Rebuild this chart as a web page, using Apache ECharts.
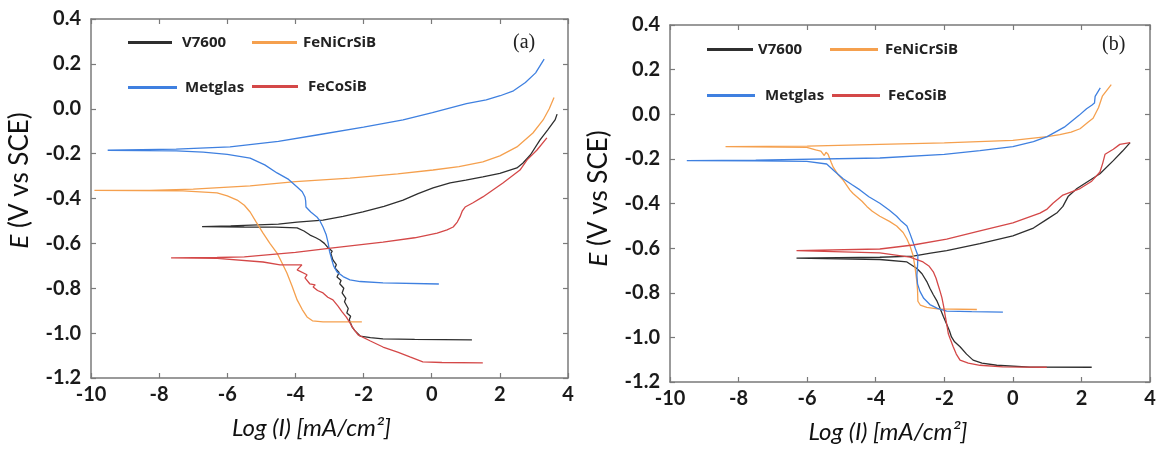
<!DOCTYPE html>
<html>
<head>
<meta charset="utf-8">
<script src="https://cdn.jsdelivr.net/npm/echarts@6/dist/echarts.min.js"></script>
<style>
  html, body { margin: 0; padding: 0; background: #fff; }
  #chart { width: 1159px; height: 449px; }
</style>
</head>
<body>
<div id="chart"></div>
<script>
// tick labels
const xTicks = [-10, -8, -6, -4, -2, 0, 2, 4]
const yTicks = [0.4, 0.2, 0.0, -0.2, -0.4, -0.6, -0.8, -1.0, -1.2]
const seriesNames = ['V7600', 'FeNiCrSiB', 'Metglas', 'FeCoSiB']
const seriesColors = ['#2f2f2f', '#f5a04e', '#3f80e0', '#d44848']

// panel (a): [log I, E] along each curve (cathodic end -> Ecorr -> anodic end)
const aV7600 = [
  [1.18, -1.030], [-0.5, -1.028], [-1.43, -1.026], [-1.8, -1.02], [-2.1, -1.013],
  [-2.25, -0.99], [-2.34, -0.972], [-2.42, -0.94], [-2.38, -0.925], [-2.49, -0.91],
  [-2.45, -0.89], [-2.56, -0.86], [-2.52, -0.845], [-2.63, -0.821], [-2.58, -0.80],
  [-2.70, -0.78], [-2.66, -0.765], [-2.78, -0.75], [-2.72, -0.73], [-2.84, -0.71],
  [-2.80, -0.695], [-2.90, -0.674], [-2.96, -0.645], [-2.92, -0.635], [-3.04, -0.62],
  [-3.15, -0.60], [-3.12, -0.592], [-3.28, -0.585], [-3.40, -0.575], [-3.57, -0.563],
  [-3.75, -0.545], [-3.95, -0.531], [-4.6, -0.528], [-5.5, -0.527], [-6.74, -0.525],
  [-5.9, -0.522], [-4.5, -0.514], [-3.95, -0.505], [-3.19, -0.496], [-2.6, -0.48],
  [-2.02, -0.46], [-1.4, -0.435], [-0.84, -0.407], [-0.4, -0.378], [0.04, -0.353],
  [0.54, -0.33], [1.0, -0.318], [1.5, -0.304], [2.0, -0.288], [2.5, -0.264],
  [2.68, -0.242], [2.9, -0.205], [3.18, -0.139], [3.4, -0.095], [3.62, -0.05], [3.68, -0.024]
]
const aFeNiCrSiB = [
  [-2.05, -0.95], [-3.19, -0.95], [-3.5, -0.945], [-3.66, -0.928], [-3.8, -0.895],
  [-3.95, -0.852], [-4.1, -0.79], [-4.25, -0.732], [-4.4, -0.685], [-4.54, -0.643],
  [-4.75, -0.60], [-4.95, -0.554], [-5.15, -0.505], [-5.33, -0.46], [-5.5, -0.43],
  [-5.71, -0.407], [-6.0, -0.388], [-6.3, -0.375], [-7.3, -0.366], [-9.9, -0.364],
  [-8.27, -0.364], [-7.0, -0.358], [-5.33, -0.344], [-4.0, -0.325], [-2.4, -0.309],
  [-1.0, -0.29], [0.04, -0.273], [0.8, -0.258], [1.5, -0.237], [2.0, -0.21],
  [2.5, -0.17], [2.97, -0.108], [3.27, -0.05], [3.45, 0.0], [3.59, 0.05]
]
const aMetglas = [
  [0.21, -0.781], [-1.43, -0.776], [-2.1, -0.77], [-2.4, -0.763], [-2.6, -0.748],
  [-2.78, -0.727], [-2.88, -0.70], [-2.93, -0.674], [-3.0, -0.635], [-3.04, -0.598],
  [-3.1, -0.56], [-3.19, -0.527], [-3.28, -0.50], [-3.37, -0.482], [-3.55, -0.46],
  [-3.69, -0.438], [-3.70, -0.41], [-3.72, -0.393], [-3.8, -0.37], [-3.95, -0.349],
  [-4.2, -0.315], [-4.54, -0.286], [-4.9, -0.25], [-5.33, -0.22], [-6.0, -0.203],
  [-6.71, -0.193], [-7.5, -0.188], [-9.51, -0.185], [-7.5, -0.180], [-5.92, -0.17],
  [-4.5, -0.145], [-3.37, -0.117], [-2.0, -0.082], [-0.84, -0.05], [0.02, -0.017],
  [1.02, 0.023], [1.6, 0.04], [2.01, 0.058], [2.4, 0.08], [2.75, 0.117],
  [3.05, 0.16], [3.3, 0.221]
]
const aFeCoSiB = [
  [1.5, -1.133], [0.3, -1.131], [-0.26, -1.128], [-0.64, -1.106], [-1.0, -1.085],
  [-1.43, -1.062], [-1.8, -1.035], [-2.16, -1.008], [-2.3, -0.98], [-2.4, -0.955],
  [-2.5, -0.93], [-2.63, -0.905], [-2.75, -0.88], [-2.9, -0.852], [-3.05, -0.84],
  [-3.19, -0.821], [-3.35, -0.81], [-3.48, -0.794], [-3.42, -0.785], [-3.58, -0.78],
  [-3.72, -0.754], [-3.66, -0.74], [-3.95, -0.718], [-3.81, -0.696], [-4.45, -0.696],
  [-4.95, -0.683], [-6.3, -0.667], [-7.65, -0.665], [-6.3, -0.663], [-5.5, -0.66],
  [-4.0, -0.64], [-2.9, -0.62], [-1.43, -0.594], [-0.5, -0.575], [0.16, -0.554],
  [0.45, -0.54], [0.63, -0.527], [0.75, -0.505], [0.83, -0.482], [0.9, -0.455],
  [0.98, -0.438], [1.2, -0.42], [1.5, -0.393], [2.09, -0.331], [2.59, -0.273],
  [2.8, -0.228], [3.09, -0.184], [3.38, -0.13]
]

// panel (b)
const bV7600 = [
  [2.3, -1.134], [0.5, -1.133], [-0.47, -1.125], [-0.9, -1.115], [-1.16, -1.102],
  [-1.35, -1.075], [-1.54, -1.042], [-1.7, -1.02], [-1.79, -0.998], [-1.85, -0.97],
  [-1.93, -0.941], [-2.03, -0.905], [-2.13, -0.867], [-2.22, -0.835], [-2.32, -0.809],
  [-2.42, -0.78], [-2.51, -0.75], [-2.65, -0.715], [-2.8, -0.691], [-3.09, -0.662],
  [-3.88, -0.651], [-6.31, -0.645], [-3.88, -0.641], [-2.91, -0.636], [-2.4, -0.622],
  [-1.93, -0.611], [-0.96, -0.58], [0.0, -0.545], [0.6, -0.51], [0.99, -0.471],
  [1.3, -0.44], [1.46, -0.413], [1.61, -0.369], [1.87, -0.333], [2.2, -0.30],
  [2.54, -0.267], [2.93, -0.208], [3.2, -0.165], [3.42, -0.127]
]
const bFeNiCrSiB = [
  [-1.05, -0.875], [-2.2, -0.872], [-2.51, -0.866], [-2.7, -0.855], [-2.77, -0.838],
  [-2.78, -0.79], [-2.8, -0.75], [-2.85, -0.69], [-2.91, -0.633], [-3.0, -0.59],
  [-3.09, -0.559], [-3.2, -0.53], [-3.39, -0.501], [-3.6, -0.48], [-3.88, -0.457],
  [-4.1, -0.435], [-4.26, -0.413], [-4.4, -0.39], [-4.66, -0.355], [-4.75, -0.34],
  [-4.95, -0.295], [-5.1, -0.27], [-5.24, -0.237], [-5.3, -0.215], [-5.39, -0.179],
  [-5.45, -0.17], [-5.5, -0.185], [-5.6, -0.165], [-5.75, -0.16], [-6.01, -0.148],
  [-8.38, -0.145], [-6.0, -0.143], [-3.88, -0.135], [-2.0, -0.128], [0.0, -0.117],
  [1.0, -0.10], [1.37, -0.091], [1.7, -0.08], [1.96, -0.065], [2.2, -0.035],
  [2.34, -0.018], [2.5, 0.03], [2.61, 0.081], [2.87, 0.133]
]
const bMetglas = [
  [-0.29, -0.887], [-1.2, -0.885], [-1.93, -0.882], [-2.2, -0.87], [-2.42, -0.853],
  [-2.6, -0.825], [-2.71, -0.794], [-2.78, -0.76], [-2.8, -0.721], [-2.78, -0.68],
  [-2.77, -0.633], [-2.85, -0.60], [-2.91, -0.574], [-3.0, -0.535], [-3.09, -0.501],
  [-3.25, -0.48], [-3.39, -0.457], [-3.6, -0.43], [-3.88, -0.399], [-4.2, -0.37],
  [-4.46, -0.339], [-4.7, -0.315], [-4.95, -0.289], [-5.2, -0.255], [-5.43, -0.223],
  [-6.01, -0.211], [-7.5, -0.209], [-9.51, -0.208], [-7.5, -0.206], [-3.88, -0.196],
  [-2.0, -0.18], [-0.96, -0.163], [0.0, -0.145], [0.6, -0.123], [1.0, -0.10],
  [1.5, -0.058], [1.93, -0.005], [2.15, 0.025], [2.3, 0.04], [2.38, 0.05],
  [2.4, 0.08], [2.55, 0.118]
]
const bFeCoSiB = [
  [0.99, -1.134], [-0.3, -1.132], [-0.96, -1.125], [-1.3, -1.115], [-1.54, -1.102],
  [-1.65, -1.075], [-1.74, -1.042], [-1.82, -1.01], [-1.88, -0.985], [-1.93, -0.94],
  [-1.98, -0.897], [-2.02, -0.86], [-2.07, -0.822], [-2.12, -0.795], [-2.18, -0.765],
  [-2.24, -0.735], [-2.32, -0.706], [-2.45, -0.68], [-2.62, -0.662], [-3.0, -0.640],
  [-3.88, -0.621], [-6.31, -0.611], [-3.88, -0.604], [-2.91, -0.586], [-1.93, -0.56],
  [-0.96, -0.523], [0.0, -0.487], [0.79, -0.443], [1.0, -0.425], [1.17, -0.399],
  [1.46, -0.362], [1.96, -0.333], [2.3, -0.30], [2.54, -0.259], [2.62, -0.22],
  [2.69, -0.179], [2.93, -0.157], [3.12, -0.135], [3.42, -0.127]
]

const panelA = [aV7600, aFeNiCrSiB, aMetglas, aFeCoSiB]
const panelB = [bV7600, bFeNiCrSiB, bMetglas, bFeCoSiB]

const chart = echarts.init(document.getElementById('chart'))

const tickFont = { fontFamily: 'Lato', fontSize: 20, fontWeight: 'bold', color: '#1a1a1a' }
const frameLine = { show: true, onZero: false, lineStyle: { color: '#7a7a7a', width: 1.5 } }
const innerTick = { show: true, inside: true, length: 5, lineStyle: { color: '#7a7a7a', width: 1.2 } }

const xAxisPair = (grid, shift) => [
  {
    gridIndex: grid, type: 'value', min: xTicks[0], max: xTicks[xTicks.length - 1], interval: 2,
    position: 'bottom',
    axisLine: frameLine, axisTick: innerTick, splitLine: { show: false },
    axisLabel: { ...tickFont, margin: 7, showMinLabel: true, showMaxLabel: true },
    name: 'Log (I) [mA/cm²]', nameLocation: 'middle', nameGap: 38,
    nameTextStyle: { fontFamily: 'Lato', fontStyle: 'italic', fontSize: 24, color: '#111', padding: [0, shift, 0, 0] }
  },
  {
    gridIndex: grid, type: 'value', min: xTicks[0], max: xTicks[xTicks.length - 1], interval: 2,
    position: 'top',
    axisLine: frameLine, axisTick: innerTick, splitLine: { show: false }, axisLabel: { show: false }
  }
]

const yAxisPair = (grid, lift) => [
  {
    gridIndex: grid, type: 'value', min: yTicks[yTicks.length - 1], max: yTicks[0], interval: 0.2,
    position: 'left',
    axisLine: frameLine, axisTick: innerTick, splitLine: { show: false },
    axisLabel: { ...tickFont, margin: 10, showMinLabel: true, showMaxLabel: true, formatter: v => v.toFixed(1) },
    name: '{i|E} (V vs SCE)', nameLocation: 'middle', nameGap: 58,
    nameTextStyle: {
      fontFamily: 'Lato', fontSize: 26, color: '#111', padding: [0, 0, 0, lift],
      rich: { i: { fontFamily: 'Lato', fontSize: 26, fontStyle: 'italic', color: '#111' } }
    }
  },
  {
    gridIndex: grid, type: 'value', min: yTicks[yTicks.length - 1], max: yTicks[0], interval: 0.2,
    position: 'right',
    axisLine: frameLine, axisTick: innerTick, splitLine: { show: false }, axisLabel: { show: false }
  }
]

const makeSeries = (curves, axisBase) => curves.map((pts, i) => ({
  name: seriesNames[i],
  type: 'line',
  xAxisIndex: axisBase,
  yAxisIndex: axisBase,
  data: pts,
  showSymbol: false,
  symbol: 'none',
  smooth: false,
  animation: false,
  lineStyle: { width: 1.3, color: seriesColors[i] },
  itemStyle: { color: seriesColors[i] }
}))

// legend slots: [name, left, top, icon width, text gap]
const legendSlots = [
  ['V7600', 123, 30, 44, 5], ['FeNiCrSiB', 247, 30, 45, 1],
  ['Metglas', 123, 75, 49, 3], ['FeCoSiB', 247, 74, 46, 5],
  ['V7600', 702, 37, 46, 0], ['FeNiCrSiB', 825, 37, 48, 2],
  ['Metglas', 702, 83, 48, 5], ['FeCoSiB', 827, 83, 48, 3]
]

const option = {
  animation: false,
  title: [
    { text: '(a)', left: 508, top: 28, textStyle: { fontFamily: 'Liberation Serif', fontSize: 20, fontWeight: 'normal', color: '#222' } },
    { text: '(b)', left: 1097, top: 30, textStyle: { fontFamily: 'Liberation Serif', fontSize: 20, fontWeight: 'normal', color: '#222' } }
  ],
  legend: legendSlots.map(([name, left, top, w, gap]) => ({
    data: [name],
    left, top,
    icon: 'rect',
    itemWidth: w,
    itemHeight: 3,
    selectedMode: false,
    textStyle: { fontFamily: 'Open Sans', fontWeight: 'bold', fontSize: 15, color: '#222', padding: [0, 0, 0, gap] }
  })),
  grid: [
    { left: 91, top: 19, width: 477, height: 359 },
    { left: 670, top: 25, width: 480, height: 364 }
  ],
  xAxis: [...xAxisPair(0, 36), ...xAxisPair(1, 44)],
  yAxis: [...yAxisPair(0, 36), ...yAxisPair(1, 10)],
  series: [...makeSeries(panelA, 0), ...makeSeries(panelB, 2)]
}

chart.setOption(option)
</script>
</body>
</html>
